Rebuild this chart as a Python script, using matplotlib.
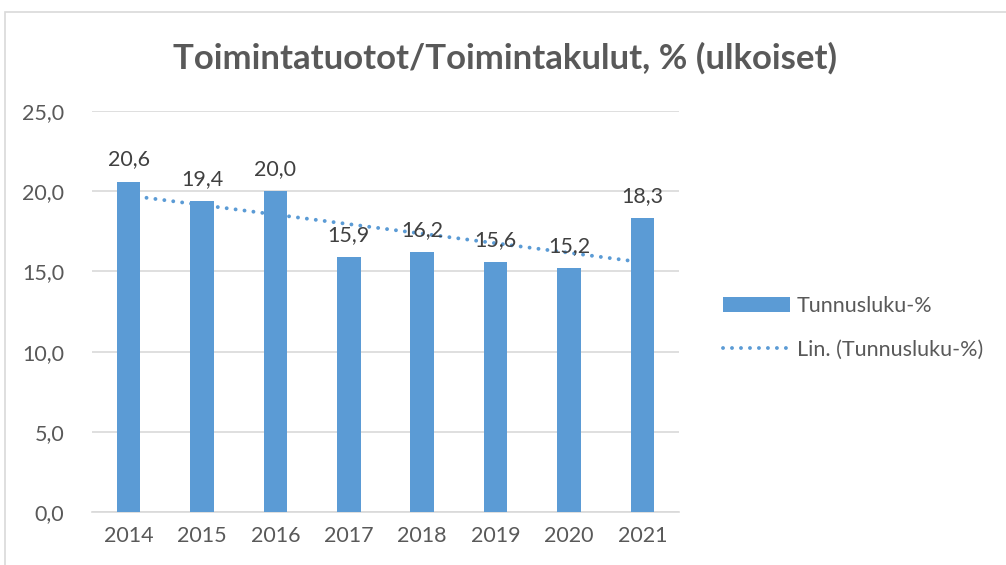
import matplotlib
matplotlib.use("Agg")
import matplotlib.pyplot as plt
import numpy as np
from matplotlib.lines import Line2D
from matplotlib.patches import Patch, Rectangle

years = ["2014", "2015", "2016", "2017", "2018", "2019", "2020", "2021"]
values = [20.6, 19.4, 20.0, 15.9, 16.2, 15.6, 15.2, 18.3]
yticks = [0, 5, 10, 15, 20, 25]

title = "Toimintatuotot/Toimintakulut, % (ulkoiset)"
bar_label = "Tunnusluku-%"
trend_label = "Lin. (Tunnusluku-%)"

BLUE = "#5B9BD5"
TXT = "#595959"
plt.rcParams['font.family'] = ['Lato', 'DejaVu Sans']

W, H = 1006, 565
fig = plt.figure(figsize=(W / 100, H / 100), dpi=100)
fig.patch.set_facecolor("white")

# chart border
fig.add_artist(Rectangle((5 / W, -0.05), 1.2, 1 - 12 / H + 0.05, transform=fig.transFigure,
                         fill=False, edgecolor="#D9D9D9", linewidth=1.2))

ax = fig.add_axes([92 / W, (H - 512) / H, (679 - 92) / W, (512 - 111) / H])
x = np.arange(len(years))
ax.bar(x, values, width=0.32, color=BLUE, zorder=3)

DOT = (0, (0.01, 2.3))
# linear trendline
coef = np.polyfit(x, values, 1)
trend = np.polyval(coef, x)
ax.plot(x, trend, linestyle=DOT, color=BLUE, linewidth=2.8,
        dash_capstyle="round", zorder=2)

for xi, v in zip(x, values):
    ax.text(xi, v + 0.75, f"{v:.1f}".replace(".", ","), ha="center", va="bottom",
            fontsize=15.5, color="#404040", zorder=4)

ax.set_xlim(-0.5, len(years) - 0.5)
ax.set_ylim(0, 25)
ax.set_yticks(yticks)
ax.set_yticklabels([f"{t:.1f}".replace(".", ",") for t in yticks], fontsize=15.5, color=TXT)
ax.set_xticks(x)
ax.set_xticklabels(years, fontsize=15.5, color=TXT)
ax.tick_params(axis="both", length=0)
ax.tick_params(axis="y", pad=20)
ax.tick_params(axis="x", pad=10)
ax.grid(axis="y", color="#D9D9D9", linewidth=1.2, zorder=0)
ax.set_axisbelow(True)
for s in ["top", "right", "left"]:
    ax.spines[s].set_visible(False)
ax.spines["bottom"].set_color("#D9D9D9")
ax.spines["bottom"].set_linewidth(1.2)

fig.text(505 / W, 1 - 58 / H, title, ha="center", va="center", fontsize=25,
         fontweight="bold", color=TXT)

handles = [Patch(facecolor=BLUE, edgecolor="none"),
           Line2D([0], [0], color=BLUE, linestyle=DOT, linewidth=2.8,
                  dash_capstyle="round")]
leg = fig.legend(handles, [bar_label, trend_label], loc="center left",
                 bbox_to_anchor=(704 / W, 1 - 328 / H), frameon=False,
                 fontsize=15.5, labelcolor=TXT, handlelength=3.1, handleheight=0.7,
                 handletextpad=0.3, labelspacing=1.1)

fig.savefig("out.png", dpi=100, facecolor="white")
